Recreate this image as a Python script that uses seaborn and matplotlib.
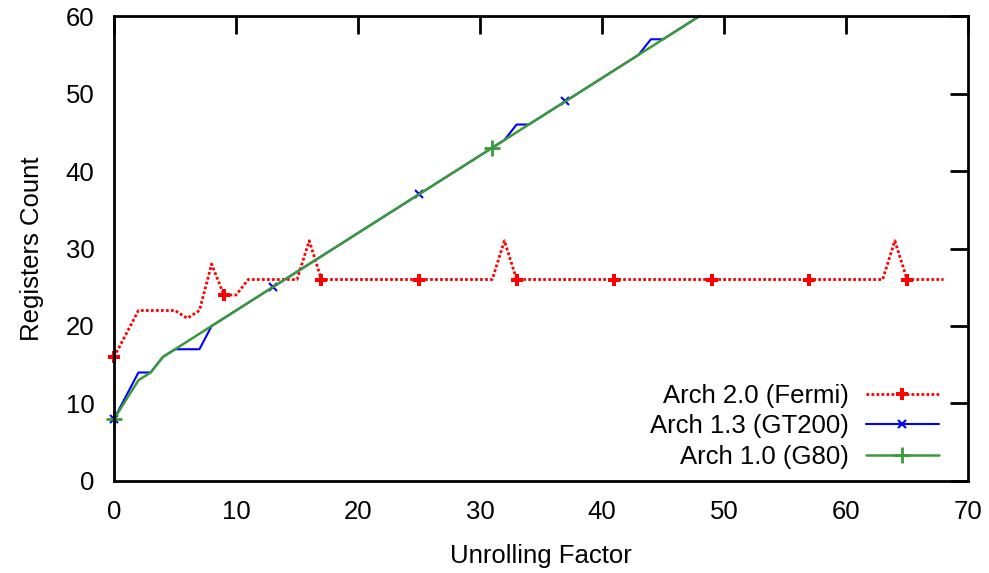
import matplotlib
matplotlib.use("Agg")
import matplotlib.pyplot as plt
import seaborn as sns

# Datos (x=1 no aparece en las series)
x_fermi = [0, 2, 3, 4, 5, 6, 7, 8, 9, 10, 11, 12, 13, 14, 15, 16, 17, 18, 19, 20,
           21, 22, 23, 24, 25, 26, 27, 28, 29, 30, 31, 32, 33, 34, 35, 36, 37, 38,
           39, 40, 41, 42, 43, 44, 45, 46, 47, 48, 49, 50, 51, 52, 53, 54, 55, 56,
           57, 58, 59, 60, 61, 62, 63, 64, 65, 66, 67, 68]
y_fermi = [16, 22, 22, 22, 22, 21, 22, 28, 24, 24, 26, 26, 26, 26, 26, 31, 26, 26, 26, 26,
           26, 26, 26, 26, 26, 26, 26, 26, 26, 26, 26, 31, 26, 26, 26, 26, 26, 26,
           26, 26, 26, 26, 26, 26, 26, 26, 26, 26, 26, 26, 26, 26, 26, 26, 26, 26,
           26, 26, 26, 26, 26, 26, 26, 31, 26, 26, 26, 26]

x_gt200 = [0, 2, 3, 4, 5, 6, 7, 8, 9, 10, 11, 12, 13, 14, 15, 16, 17, 18, 19, 20,
           21, 22, 23, 24, 25, 26, 27, 28, 29, 30, 31, 32, 33, 34, 35, 36, 37, 38,
           39, 40, 41, 42, 43, 44, 45, 46, 47, 48]
y_gt200 = [8, 14, 14, 16, 17, 17, 17, 20, 21, 22, 23, 24, 25, 26, 27, 28, 29, 30, 31, 32,
           33, 34, 35, 36, 37, 38, 39, 40, 41, 42, 43, 44, 46, 46, 47, 48, 49, 50,
           51, 52, 53, 54, 55, 57, 57, 58, 59, 60]

x_g80 = [0, 2, 3, 4, 5, 6, 7, 8, 9, 10, 11, 12, 13, 14, 15, 16, 17, 18, 19, 20,
         21, 22, 23, 24, 25, 26, 27, 28, 29, 30, 31, 32, 33, 34, 35, 36, 37, 38,
         39, 40, 41, 42, 43, 44, 45, 46, 47, 48]
y_g80 = [8, 13, 14, 16, 17, 18, 19, 20, 21, 22, 23, 24, 25, 26, 27, 28, 29, 30, 31, 32,
         33, 34, 35, 36, 37, 38, 39, 40, 41, 42, 43, 44, 45, 46, 47, 48, 49, 50,
         51, 52, 53, 54, 55, 56, 57, 58, 59, 60]

sns.set_style("white")
plt.rcParams['font.family'] = ['Liberation Sans', 'DejaVu Sans']
plt.rcParams['text.color'] = 'black'
plt.rcParams['axes.labelcolor'] = 'black'
fs = 18.5

fig, ax = plt.subplots(figsize=(9.89, 5.73), dpi=100)
fig.subplots_adjust(left=0.1153, right=0.9788, top=0.972, bottom=0.1606)

sns.lineplot(x=x_fermi, y=y_fermi, ax=ax, sort=False, estimator=None,
             color='#ff0000', linestyle=(0, (1, 0.8)), linewidth=2,
             marker='P', markersize=9, markeredgewidth=0, markevery=8,
             markerfacecolor='#ff0000', clip_on=False,
             label='Arch 2.0 (Fermi)')
sns.lineplot(x=x_gt200, y=y_gt200, ax=ax, sort=False, estimator=None,
             color='#0000ff', linewidth=1.5,
             marker='x', markersize=6, markeredgewidth=1.5, markevery=12,
             markeredgecolor='#0000ff', clip_on=False,
             label='Arch 1.3 (GT200)')
sns.lineplot(x=x_g80, y=y_g80, ax=ax, sort=False, estimator=None,
             color='#3a9a3a', linewidth=1.8,
             marker='+', markersize=12, markeredgewidth=2, markevery=30,
             markeredgecolor='#3a9a3a', clip_on=False,
             label='Arch 1.0 (G80)')

ax.set_xlim(0, 70)
ax.set_ylim(0, 60)
ax.set_xticks(range(0, 71, 10))
ax.set_yticks(range(0, 61, 10))
ax.tick_params(direction='in', length=13, width=2, top=True, right=True,
               labelsize=fs, pad=14, colors='black')
for s in ax.spines.values():
    s.set_linewidth(2)
    s.set_color('black')
    s.set_zorder(5)
ax.set_xlabel('Unrolling Factor', fontsize=fs, labelpad=14)
ax.set_ylabel('Registers Count', fontsize=fs, labelpad=16)

leg = ax.legend(loc='lower right', bbox_to_anchor=(0.978, 0.004), frameon=False,
                fontsize=fs, markerfirst=False, handlelength=2.85,
                handletextpad=0.66, labelspacing=0.25, borderaxespad=0)
# alinear los textos a la derecha como en gnuplot
for col in leg._legend_handle_box.get_children():
    col.align = 'right'

plt.savefig('out.png', dpi=100)
